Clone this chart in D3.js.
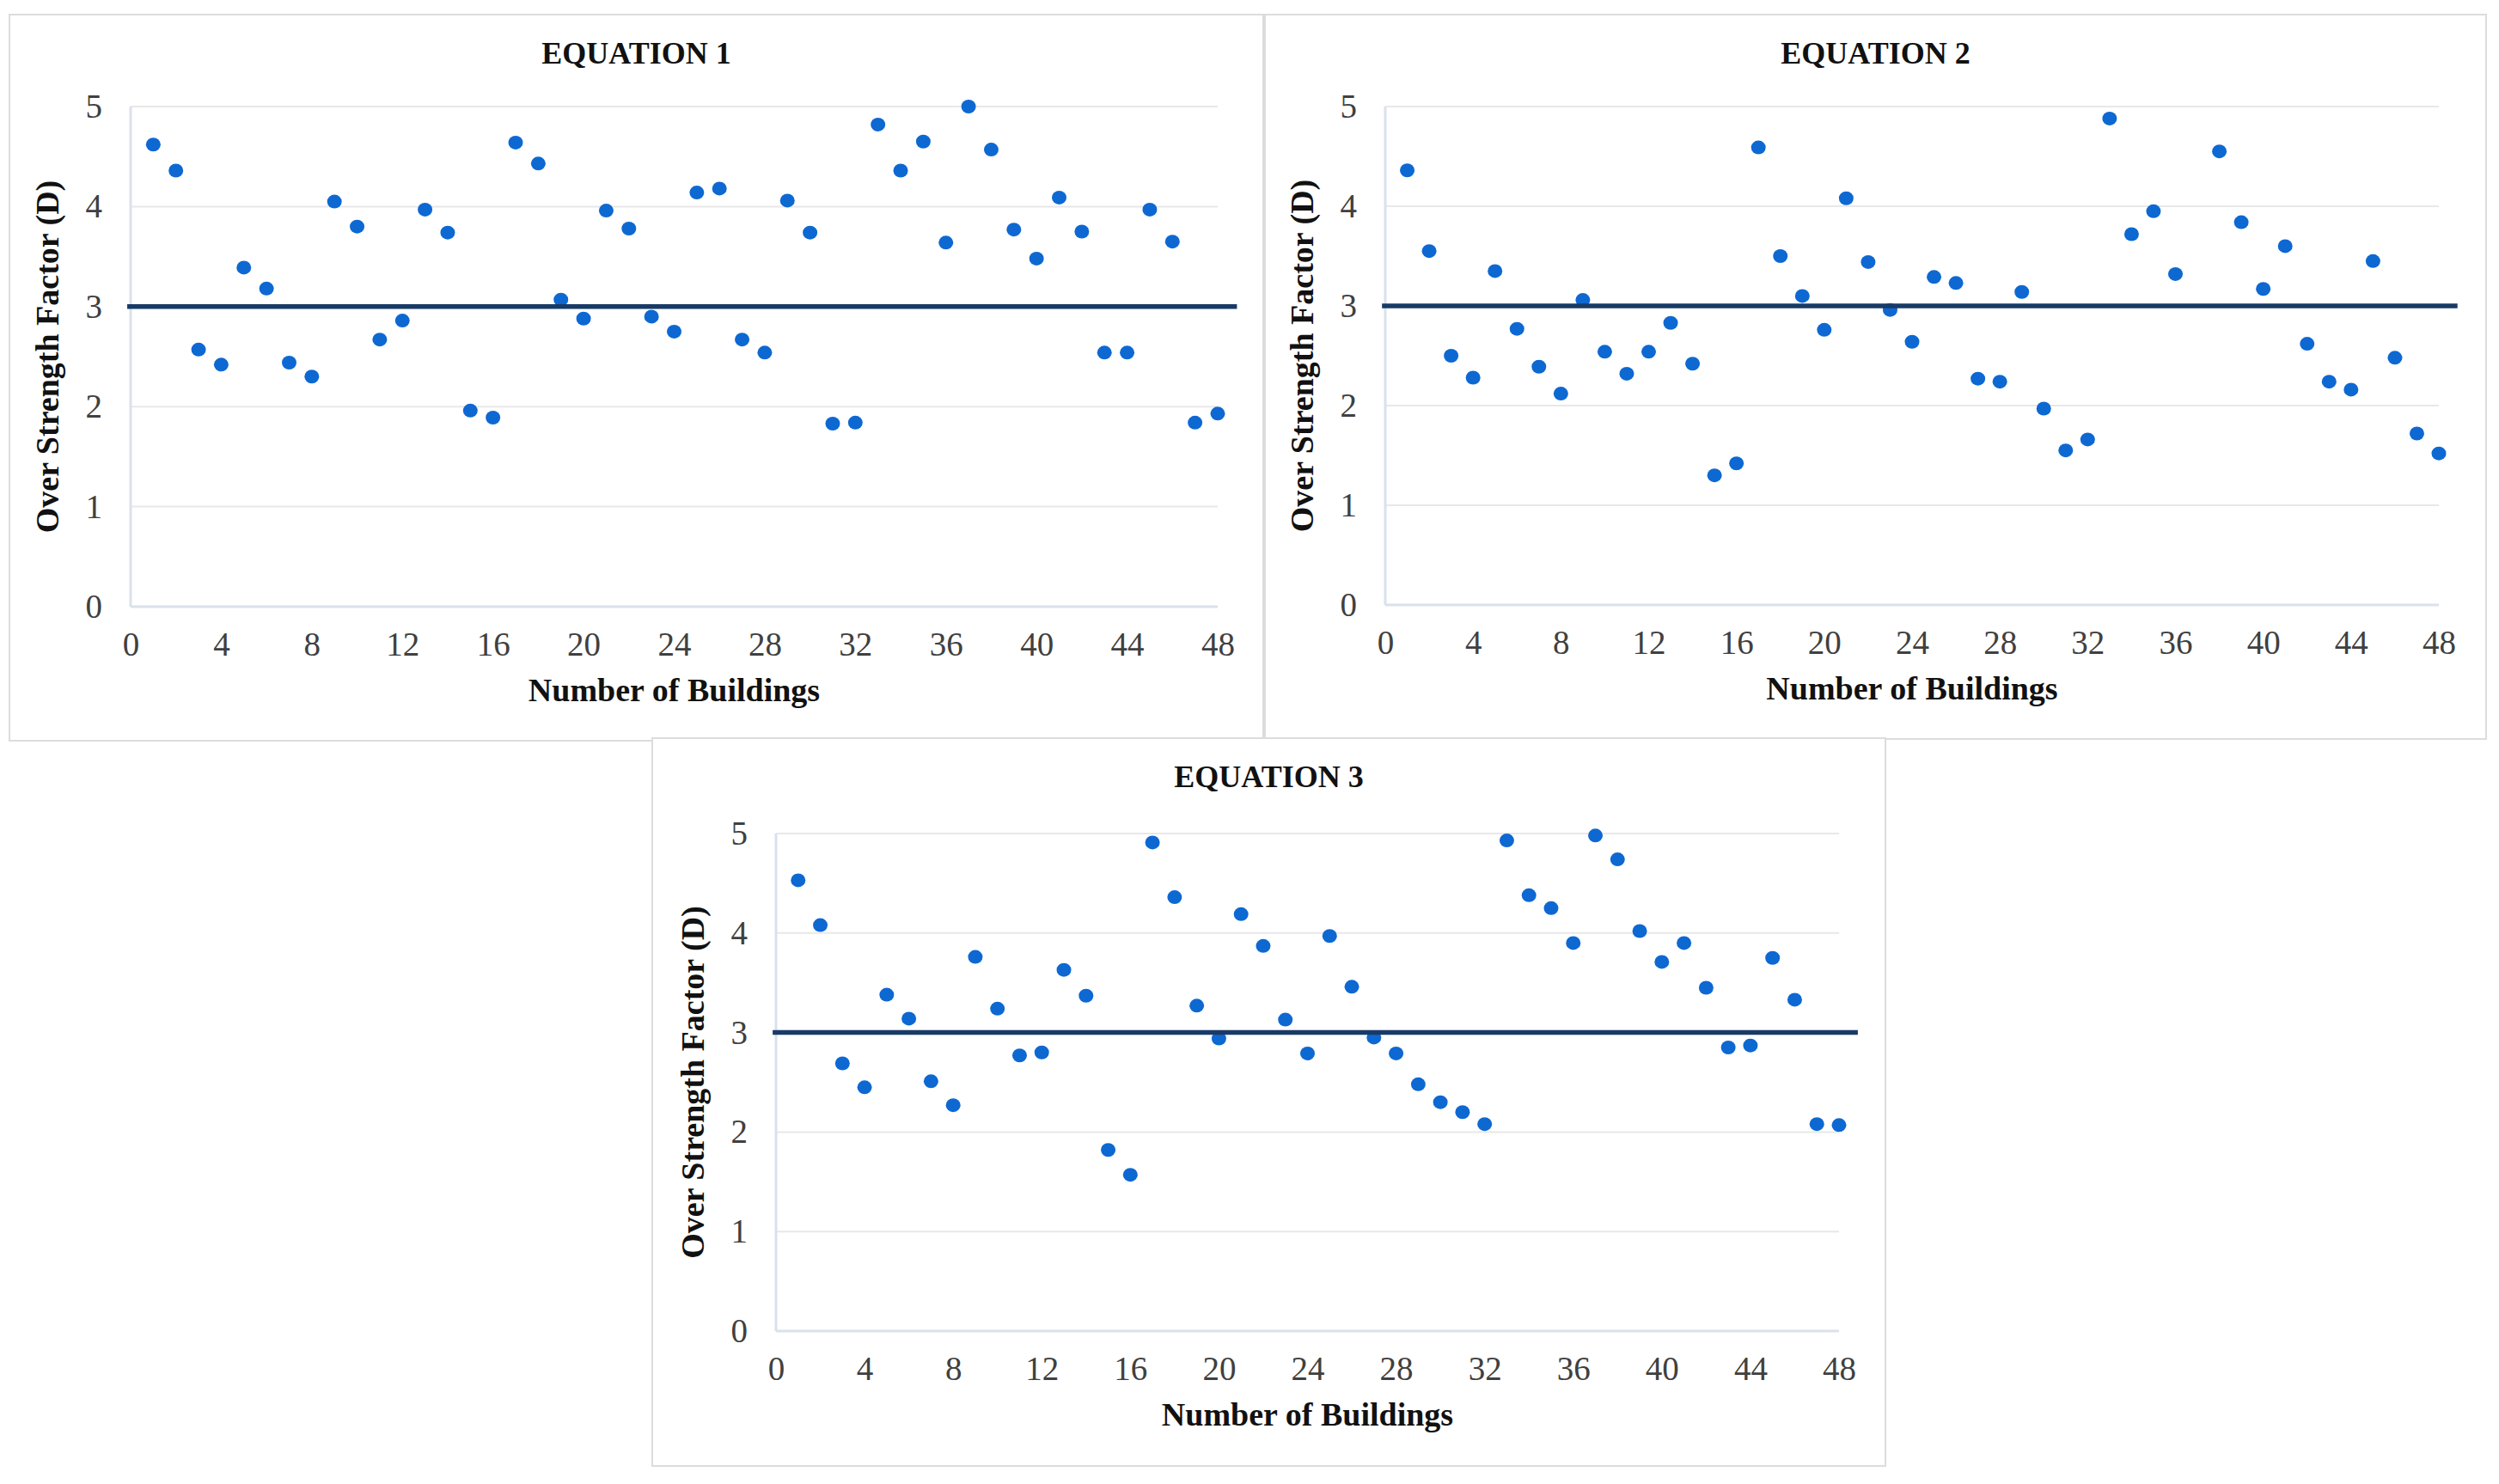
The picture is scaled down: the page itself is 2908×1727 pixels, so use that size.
<!DOCTYPE html>
<html lang="en">
<head>
    <meta charset="UTF-8">
    <title>Over Strength Factor - Equations 1 to 3</title>
    <style>
        body {
            margin: 0;
            padding: 0;
            background: #fff;
        }
        svg text {
            font-family: "Liberation Serif", "Times New Roman", serif;
        }
        .tick text {
            fill: #404040;
            font-size: 39px;
        }
        .title {
            font-size: 36px;
            font-weight: bold;
            fill: #111;
        }
        .axis-title {
            font-size: 38px;
            font-weight: bold;
            fill: #111;
        }
    </style>
</head>
<body>
    <svg id="chart" width="2908" height="1727"></svg>
    <script src="https://d3js.org/d3.v7.min.js"></script>
    <script>
        // building numbers 1..48
        const buildings = [1, 2, 3, 4, 5, 6, 7, 8, 9, 10, 11, 12, 13, 14, 15, 16,
            17, 18, 19, 20, 21, 22, 23, 24, 25, 26, 27, 28, 29, 30, 31, 32,
            33, 34, 35, 36, 37, 38, 39, 40, 41, 42, 43, 44, 45, 46, 47, 48];

        const eq1 = [4.62, 4.36, 2.57, 2.42, 3.39, 3.18, 2.44, 2.30, 4.05, 3.80, 2.67, 2.86,
            3.97, 3.74, 1.96, 1.89, 4.64, 4.43, 3.07, 2.88, 3.96, 3.78, 2.90, 2.75,
            4.14, 4.18, 2.67, 2.54, 4.06, 3.74, 1.83, 1.84, 4.82, 4.36, 4.65, 3.64,
            5.00, 4.57, 3.77, 3.48, 4.09, 3.75, 2.54, 2.54, 3.97, 3.65, 1.84, 1.93];

        // building 37 is off the top of the chart in equation 2
        const eq2 = [4.36, 3.55, 2.50, 2.28, 3.35, 2.77, 2.39, 2.12, 3.06, 2.54, 2.32, 2.54,
            2.83, 2.42, 1.30, 1.42, 4.59, 3.50, 3.10, 2.76, 4.08, 3.44, 2.96, 2.64,
            3.29, 3.23, 2.27, 2.24, 3.14, 1.97, 1.55, 1.66, 4.88, 3.72, 3.95, 3.32,
            null, 4.55, 3.84, 3.17, 3.60, 2.62, 2.24, 2.16, 3.45, 2.48, 1.72, 1.52];

        const eq3 = [4.53, 4.08, 2.69, 2.45, 3.38, 3.14, 2.51, 2.27, 3.76, 3.24, 2.77, 2.80,
            3.63, 3.37, 1.82, 1.57, 4.91, 4.36, 3.27, 2.94, 4.19, 3.87, 3.13, 2.79,
            3.97, 3.46, 2.95, 2.79, 2.48, 2.30, 2.20, 2.08, 4.93, 4.38, 4.25, 3.90,
            4.98, 4.74, 4.02, 3.71, 3.90, 3.45, 2.85, 2.87, 3.75, 3.33, 2.08, 2.07];

        const titles = ['EQUATION 1', 'EQUATION 2', 'EQUATION 3'];
        const xTicks = [0, 4, 8, 12, 16, 20, 24, 28, 32, 36, 40, 44, 48];
        const yTicks = [0, 1, 2, 3, 4, 5];
        const limit = 3;              // reference line at D = 3
        const limitSpan = [-0.15, 48.85];

        // panel placement in the picture
        const panels = [
            { data: eq1, title: titles[0], box: [11, 17, 1470, 862], plot: [152, 1417, 124, 706] },
            { data: eq2, title: titles[1], box: [1472, 17, 2893, 860], plot: [1612, 2838, 124, 704] },
            { data: eq3, title: titles[2], box: [759, 859, 2194, 1706], plot: [903, 2140, 970, 1549] }
        ];

        const svg = d3.select('#chart');
        svg.append('rect').attr('width', 2908).attr('height', 1727).attr('fill', '#fff');

        function drawPanel(p) {
            const [bx0, by0, bx1, by1] = p.box;
            const [left, right, top, bottom] = p.plot;

            const g = svg.append('g');

            g.append('rect')
                .attr('x', bx0).attr('y', by0)
                .attr('width', bx1 - bx0).attr('height', by1 - by0)
                .attr('fill', '#fff')
                .attr('stroke', '#dcdcdc')
                .attr('stroke-width', 2);

            const x = d3.scaleLinear().domain([0, 48]).range([left, right]);
            const y = d3.scaleLinear().domain([0, 5]).range([bottom, top]);

            // gridlines
            g.append('g')
                .selectAll('line')
                .data(yTicks.filter(d => d > 0))
                .enter().append('line')
                .attr('x1', x(0)).attr('x2', x(48))
                .attr('y1', d => y(d)).attr('y2', d => y(d))
                .attr('stroke', '#e8e8e8')
                .attr('stroke-width', 2);

            // axes lines (light blue-grey)
            g.append('line')
                .attr('x1', x(0)).attr('x2', x(48))
                .attr('y1', y(0)).attr('y2', y(0))
                .attr('stroke', '#d9e1ec').attr('stroke-width', 3);
            g.append('line')
                .attr('x1', x(0)).attr('x2', x(0))
                .attr('y1', y(0)).attr('y2', y(5))
                .attr('stroke', '#d9e1ec').attr('stroke-width', 3);

            const yAxis = g.append('g')
                .attr('transform', `translate(${left - 30},0)`)
                .call(d3.axisLeft(y).tickValues(yTicks).tickFormat(d3.format('d')).tickSize(0).tickPadding(3));
            yAxis.select('.domain').remove();

            const xAxis = g.append('g')
                .attr('transform', `translate(0,${bottom + 29})`)
                .call(d3.axisBottom(x).tickValues(xTicks).tickFormat(d3.format('d')).tickSize(0).tickPadding(0));
            xAxis.select('.domain').remove();
            xAxis.selectAll('text').attr('dy', '0.71em');

            // points
            g.append('g')
                .selectAll('ellipse')
                .data(buildings.map((b, i) => ({ b: b, v: p.data[i] })).filter(d => d.v != null))
                .enter().append('ellipse')
                .attr('cx', d => x(d.b))
                .attr('cy', d => y(d.v))
                .attr('rx', 8.5)
                .attr('ry', 8)
                .attr('fill', '#0d68d2');

            // D = 3 line
            g.append('line')
                .attr('x1', x(limitSpan[0])).attr('x2', x(limitSpan[1]))
                .attr('y1', y(limit)).attr('y2', y(limit))
                .attr('stroke', '#183a66')
                .attr('stroke-width', 5.5);

            g.append('text')
                .attr('class', 'title')
                .attr('x', (bx0 + bx1) / 2)
                .attr('y', by0 + 57)
                .attr('text-anchor', 'middle')
                .text(p.title);

            g.append('text')
                .attr('class', 'axis-title')
                .attr('x', (left + right) / 2)
                .attr('y', bottom + 110)
                .attr('text-anchor', 'middle')
                .text('Number of Buildings');

            g.append('text')
                .attr('class', 'axis-title')
                .attr('transform', `translate(${left - 84},${(top + bottom) / 2}) rotate(-90)`)
                .attr('text-anchor', 'middle')
                .text('Over Strength Factor (D)');
        }

        panels.forEach(drawPanel);
    </script>
</body>
</html>
